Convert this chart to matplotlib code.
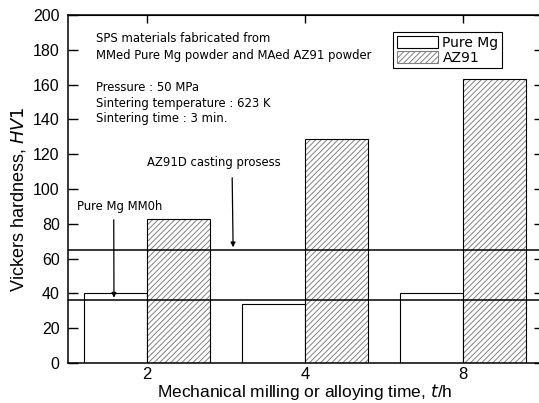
import matplotlib.pyplot as plt
from matplotlib.patches import Patch

# data
times = ["2", "4", "8"]
pure_mg = [40, 34, 40]
az91 = [83, 129, 163]
az91d_casting = 65
pure_mg_mm0h = 36


def main() -> None:
    plt.rcParams['font.family'] = ['Liberation Sans', 'DejaVu Sans']
    plt.rcParams['hatch.linewidth'] = 0.7

    fig = plt.figure(figsize=(5.39, 4.03), dpi=100)
    ax = fig.add_axes([68 / 539, 40 / 403, 474 / 539, 348 / 403])

    x = list(range(len(times)))
    w = 0.4
    ax.bar(x, pure_mg, width=-w, align='edge', facecolor='white',
           edgecolor='black', linewidth=0.8, zorder=2)
    ax.bar(x, az91, width=w, align='edge', facecolor='white',
           edgecolor='#808080', hatch='//////', linewidth=0, zorder=2)
    ax.bar(x, az91, width=w, align='edge', facecolor='none',
           edgecolor='black', linewidth=0.8, zorder=3)

    ax.axhline(az91d_casting, color='black', linewidth=1.1, zorder=4)
    ax.axhline(pure_mg_mm0h, color='black', linewidth=1.1, zorder=4)

    txt = dict(fontsize=8.4, family='DejaVu Sans')
    ax.text(-0.325, 190, "SPS materials fabricated from\nMMed Pure Mg powder and MAed AZ91 powder",
            va='top', linespacing=1.35, **txt)
    ax.text(-0.325, 162, "Pressure : 50 MPa\nSintering temperature : 623 K\nSintering time : 3 min.",
            va='top', linespacing=1.25, **txt)

    ax.annotate("AZ91D casting prosess", xy=(0.545, az91d_casting + 1.5),
                xytext=(0.42, 115), ha='center', va='center',
                arrowprops=dict(arrowstyle='-|>', color='black', lw=0.9,
                                mutation_scale=7, shrinkA=4, shrinkB=0,
                                relpos=(0.64, 0)), **txt)
    ax.annotate("Pure Mg MM0h", xy=(-0.209, pure_mg_mm0h + 1.5),
                xytext=(-0.443, 90), ha='left', va='center',
                arrowprops=dict(arrowstyle='-|>', color='black', lw=0.9,
                                mutation_scale=7, shrinkA=3, shrinkB=0,
                                relpos=(0.43, 0)), **txt)

    handles = [Patch(facecolor='white', edgecolor='black', linewidth=0.8),
               Patch(facecolor='white', edgecolor='#808080', hatch='//////', linewidth=0.8)]
    leg = ax.legend(handles, ["Pure Mg", "AZ91"], loc='upper left',
                    bbox_to_anchor=(0.686, 0.95), fancybox=False, edgecolor='black',
                    framealpha=1, handlelength=3.0, handleheight=0.9,
                    handletextpad=0.3, borderpad=0.25, labelspacing=0.05,
                    borderaxespad=0, prop={'family': 'DejaVu Sans', 'size': 10})
    leg.get_frame().set_linewidth(0.8)

    ax.set_xlim(-0.5, 2.5)
    ax.set_ylim(0, 200)
    ax.set_yticks(range(0, 201, 20))
    ax.set_xticks(x)
    ax.set_xticklabels(times, fontsize=12)
    ax.tick_params(axis='y', labelsize=11.5, direction='in', length=7, width=1, pad=6)
    ax.tick_params(axis='x', length=0, pad=3)

    top = ax.secondary_xaxis('top')
    top.set_xticks(x)
    top.tick_params(direction='in', length=6, width=1, labeltop=False)
    right = ax.secondary_yaxis('right')
    right.set_yticks(range(0, 201, 20))
    right.tick_params(direction='in', length=6, width=1, labelright=False)

    for s in ax.spines.values():
        s.set_linewidth(1.1)

    ax.set_ylabel(r"Vickers hardness, $\mathit{HV1}$", fontsize=13)
    ax.yaxis.set_label_coords(-0.085, 0.47)
    ax.set_xlabel(r"Mechanical milling or alloying time, $\mathit{t}$/h", fontsize=12.5, labelpad=0)

    fig.savefig("out.png", dpi=100)


if __name__ == "__main__":
    main()
